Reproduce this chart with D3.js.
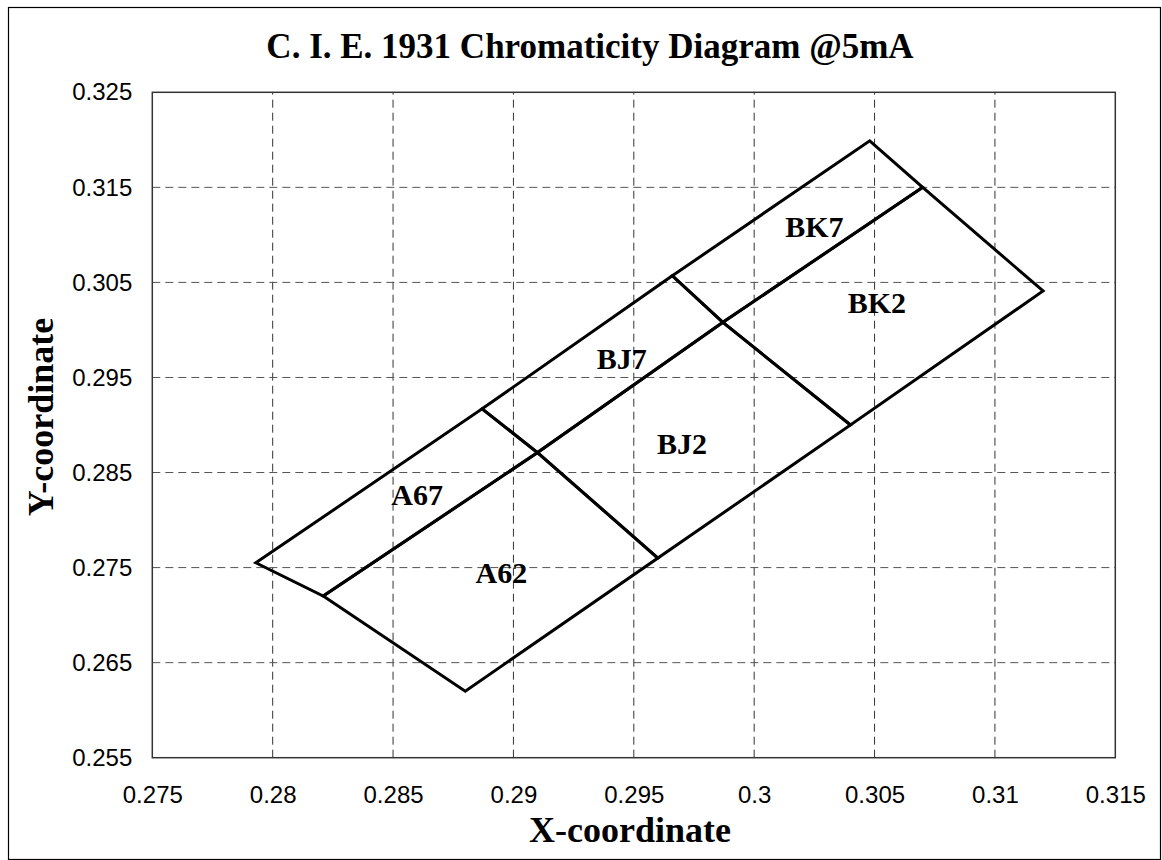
<!DOCTYPE html>
<html>
<head>
<meta charset="utf-8">
<script src="https://cdn.jsdelivr.net/npm/d3@7"></script>
<style>
  body { margin: 0; background: #fff; }
  .tick text { font-family: "Liberation Sans", Arial, sans-serif; font-size: 24px; fill: #000; }
  .axis-title, .chart-title, .bin-label { font-family: "Liberation Serif", "Times New Roman", serif; font-weight: bold; fill: #000; }
</style>
</head>
<body>
<div id="chart"></div>
<script>
// ranges of the axes
var xDomain = [0.275, 0.315]
var yDomain = [0.255, 0.325]
var xTicks = [0.275, 0.28, 0.285, 0.29, 0.295, 0.3, 0.305, 0.31, 0.315]
var yTicks = [0.255, 0.265, 0.275, 0.285, 0.295, 0.305, 0.315, 0.325]

// bin names and their corners [x, y]
var binNames = ["A67", "A62", "BJ7", "BJ2", "BK7", "BK2"]
var binCorners = [
    [[0.2793, 0.2755], [0.2887, 0.2917], [0.2910, 0.2871], [0.2821, 0.2720]],
    [[0.2821, 0.2720], [0.2910, 0.2871], [0.2960, 0.2760], [0.2880, 0.2620]],
    [[0.2887, 0.2917], [0.2966, 0.3057], [0.2987, 0.3008], [0.2910, 0.2871]],
    [[0.2910, 0.2871], [0.2987, 0.3008], [0.3040, 0.2900], [0.2960, 0.2760]],
    [[0.2966, 0.3057], [0.3048, 0.3199], [0.3070, 0.3150], [0.2987, 0.3008]],
    [[0.2987, 0.3008], [0.3070, 0.3150], [0.3120, 0.3041], [0.3040, 0.2900]]
]
// where each bin name sits (centre x, baseline y)
var labelX = [0.2860, 0.2895, 0.2945, 0.2970, 0.3025, 0.3051]
var labelY = [0.2816, 0.2734, 0.2959, 0.2870, 0.3098, 0.3018]

var width = 1162, height = 860
var margin = {top: 92.3, right: 1162 - 1115.3, bottom: 860 - 757.7, left: 152.3}

var svg = d3.select("#chart").append("svg")
            .attr("width", width)
            .attr("height", height)

// outer frame
svg.append("rect")
   .attr("x", 8.5).attr("y", 7.5)
   .attr("width", 1152).attr("height", 852)
   .attr("fill", "none").attr("stroke", "#000").attr("stroke-width", 1.2)

var x = d3.scaleLinear().domain(xDomain).range([margin.left, width - margin.right])
var y = d3.scaleLinear().domain(yDomain).range([height - margin.bottom, margin.top])

// grid
svg.append("g").selectAll("line")
   .data(xTicks.slice(1, -1))
   .enter().append("line")
   .attr("x1", d => x(d)).attr("x2", d => x(d))
   .attr("y1", y(yDomain[0])).attr("y2", y(yDomain[1]))
   .attr("stroke", "#333").attr("stroke-width", 1).attr("stroke-dasharray", "8,5")

svg.append("g").selectAll("line")
   .data(yTicks.slice(1, -1))
   .enter().append("line")
   .attr("y1", d => y(d)).attr("y2", d => y(d))
   .attr("x1", x(xDomain[0])).attr("x2", x(xDomain[1]))
   .attr("stroke", "#555").attr("stroke-width", 1).attr("stroke-dasharray", "8,5")

// plot border
svg.append("rect")
   .attr("x", x(xDomain[0])).attr("y", y(yDomain[1]))
   .attr("width", x(xDomain[1]) - x(xDomain[0]))
   .attr("height", y(yDomain[0]) - y(yDomain[1]))
   .attr("fill", "none").attr("stroke", "#333").attr("stroke-width", 1.5)

var fmt = d => String(+d.toFixed(3))

var xAxis = svg.append("g")
   .attr("transform", "translate(0," + y(yDomain[0]) + ")")
   .call(d3.axisBottom(x).tickValues(xTicks).tickFormat(fmt).tickSize(0).tickPadding(28))
xAxis.select(".domain").remove()

var yAxis = svg.append("g")
   .attr("transform", "translate(" + x(xDomain[0]) + ",0)")
   .call(d3.axisLeft(y).tickValues(yTicks).tickFormat(fmt).tickSize(0).tickPadding(20))
yAxis.select(".domain").remove()

// bins
var line = d3.line().x(d => x(d[0])).y(d => y(d[1])).curve(d3.curveLinearClosed)
svg.append("g").selectAll("path")
   .data(binCorners)
   .enter().append("path")
   .attr("d", line)
   .attr("fill", "none")
   .attr("stroke", "#000")
   .attr("stroke-width", 3)
   .attr("stroke-linejoin", "miter")

svg.append("g").selectAll("text")
   .data(binNames)
   .enter().append("text")
   .attr("class", "bin-label")
   .attr("x", (d, i) => x(labelX[i]))
   .attr("y", (d, i) => y(labelY[i]))
   .attr("text-anchor", "middle")
   .style("font-size", "30px")
   .text(d => d)

// titles
svg.append("text")
   .attr("class", "chart-title")
   .attr("x", 590).attr("y", 58)
   .attr("text-anchor", "middle")
   .style("font-size", "35px")
   .text("C. I. E. 1931 Chromaticity Diagram @5mA")

svg.append("text")
   .attr("class", "axis-title")
   .attr("x", 630).attr("y", 842)
   .attr("text-anchor", "middle")
   .style("font-size", "36px")
   .text("X-coordinate")

svg.append("text")
   .attr("class", "axis-title")
   .attr("transform", "translate(53,417) rotate(-90)")
   .attr("text-anchor", "middle")
   .style("font-size", "36px")
   .text("Y-coordinate")
</script>
</body>
</html>
